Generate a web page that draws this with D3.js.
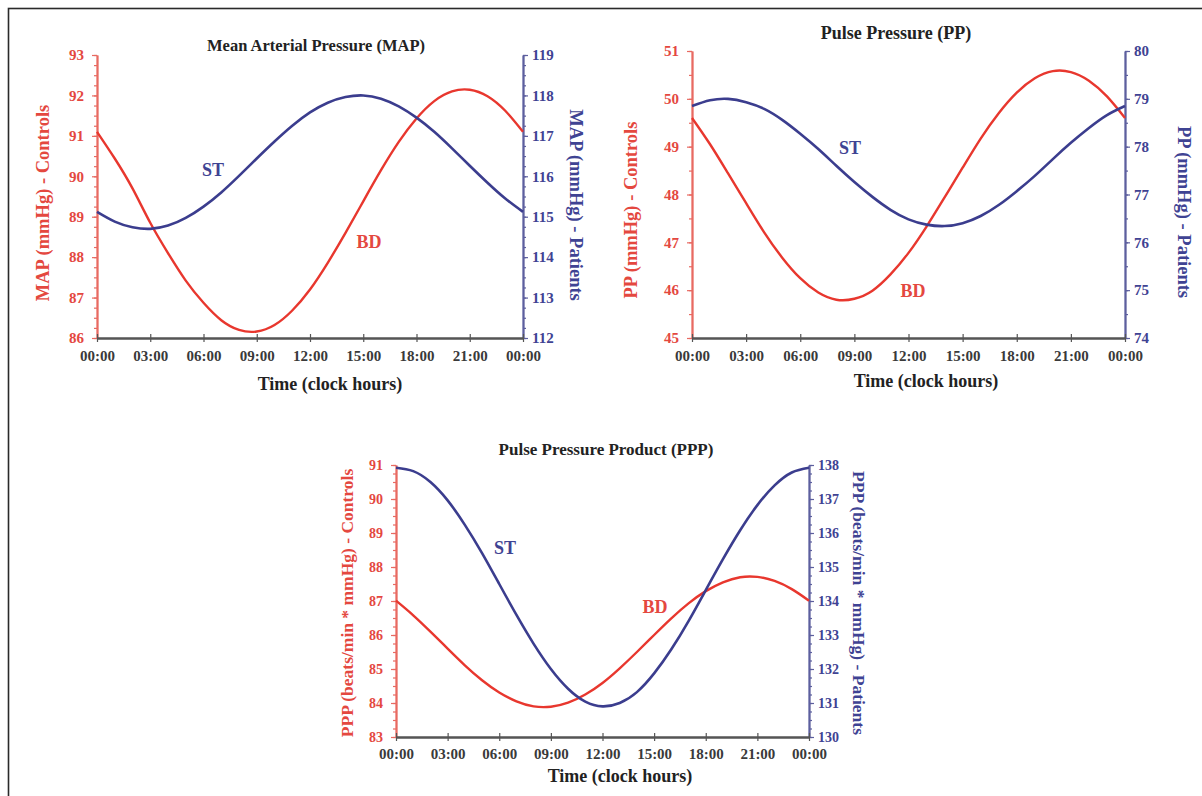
<!DOCTYPE html>
<html>
<head>
<meta charset="utf-8">
<script src="https://cdn.jsdelivr.net/npm/d3@7"></script>
<style>
  body { margin: 0; background: #fff; }
  svg { display: block; }
  text { font-family: "Liberation Serif", "Times New Roman", serif; font-weight: bold; }
</style>
</head>
<body>
<svg id="chart" width="1202" height="796"></svg>
<script>
// Clock hours of the fitted rhythms (00:00 .. next 00:00)
const hours = [0,1,2,3,4,5,6,7,8,9,10,11,12,13,14,15,16,17,18,19,20,21,22,23,24];
const timeTickHours = [0,3,6,9,12,15,18,21,24];
const timeTickLabels = ["00:00","03:00","06:00","09:00","12:00","15:00","18:00","21:00","00:00"];

// Mean arterial pressure (mmHg)
const mapControls = [91.10,90.44,89.70,88.85,88.10,87.42,86.87,86.44,86.20,86.16,86.32,86.68,87.20,87.86,88.60,89.38,90.15,90.85,91.43,91.86,92.10,92.14,91.98,91.62,91.10];
const mapPatients = [115.12,114.88,114.74,114.70,114.78,114.97,115.25,115.60,116.01,116.44,116.86,117.25,117.58,117.82,117.96,118.00,117.92,117.73,117.45,117.10,116.69,116.26,115.84,115.45,115.12];
const mapControlTicks = [86,87,88,89,90,91,92,93];
const mapPatientTicks = [112,113,114,115,116,117,118,119];

// Pulse pressure (mmHg)
const ppControls = [49.60,49.05,48.44,47.82,47.21,46.68,46.25,45.95,45.80,45.82,45.99,46.33,46.78,47.33,47.94,48.56,49.17,49.70,50.13,50.43,50.58,50.56,50.38,50.05,49.60];
const ppPatients = [78.85,78.97,79.00,78.93,78.79,78.56,78.27,77.95,77.60,77.26,76.95,76.68,76.48,76.37,76.34,76.40,76.55,76.78,77.07,77.39,77.74,78.08,78.39,78.66,78.85];
const ppControlTicks = [45,46,47,48,49,50,51];
const ppPatientTicks = [74,75,76,77,78,79,80];

// Pulse pressure product (beats/min * mmHg)
const pppControls = [87.01,86.58,86.10,85.60,85.11,84.67,84.31,84.05,83.90,83.89,84.01,84.25,84.59,85.02,85.50,86.00,86.49,86.93,87.29,87.55,87.70,87.71,87.59,87.35,87.01];
const pppPatients = [137.92,137.82,137.50,136.96,136.24,135.41,134.50,133.59,132.74,132.00,131.42,131.04,130.90,131.00,131.32,131.87,132.58,133.41,134.32,135.23,136.08,136.82,137.40,137.78,137.92];
const pppControlTicks = [83,84,85,86,87,88,89,90,91];
const pppPatientTicks = [130,131,132,133,134,135,136,137,138];

const RED = "#e8372e";
const RED_TEXT = "#e4483f";
const RED_AXIS = "#e86a62";
const BLUE = "#3b3d8e";
const BLUE_TEXT = "#3f4393";
const BLUE_AXIS = "#5d5f9e";
const GREY = "#3a3a3a";

const svg = d3.select("#chart");

// outer frame
svg.append("rect")
  .attr("x", 8.5).attr("y", 8.5)
  .attr("width", 1200).attr("height", 800)
  .attr("fill", "none").attr("stroke", "#2a2a2a").attr("stroke-width", 1.6);

function styleAxis(sel, lineColor, textColor, fontSize) {
  sel.select(".domain").attr("stroke", lineColor).attr("stroke-width", 1.8);
  sel.selectAll(".tick line").attr("stroke", lineColor).attr("stroke-width", 1.2);
  sel.selectAll(".tick text").attr("fill", textColor).style("font-size", fontSize + "px")
    .style("font-family", '"Liberation Serif", "Times New Roman", serif').style("font-weight", "bold");
}

function drawPanel(p) {
  const g = svg.append("g");
  const x = d3.scaleLinear().domain([0, 24]).range([p.left, p.right]);
  const yL = d3.scaleLinear().domain([p.leftTicks[0], p.leftTicks[p.leftTicks.length - 1]]).range([p.bottom, p.top]);
  const yR = d3.scaleLinear().domain([p.rightTicks[0], p.rightTicks[p.rightTicks.length - 1]]).range([p.bottom, p.top]);

  const minorL = d3.range(yL.domain()[0], yL.domain()[1] + 1e-6, p.minorStep);
  const minorR = d3.range(yR.domain()[0], yR.domain()[1] + 1e-6, p.minorStep);

  // minor ticks
  g.append("g").attr("transform", `translate(${p.left},0)`)
    .call(d3.axisLeft(yL).tickValues(minorL).tickSize(3).tickSizeOuter(0).tickFormat(""))
    .call(s => styleAxis(s, RED_AXIS, RED_TEXT, p.yTickSize));
  g.append("g").attr("transform", `translate(${p.right},0)`)
    .call(d3.axisRight(yR).tickValues(minorR).tickSize(3).tickSizeOuter(0).tickFormat(""))
    .call(s => styleAxis(s, BLUE_AXIS, BLUE_TEXT, p.yTickSize));

  // major ticks with labels
  g.append("g").attr("transform", `translate(${p.left},0)`)
    .call(d3.axisLeft(yL).tickValues(p.leftTicks).tickSize(5).tickPadding(8).tickSizeOuter(0).tickFormat(d3.format("d")))
    .call(s => styleAxis(s, RED_AXIS, RED_TEXT, p.yTickSize));
  g.append("g").attr("transform", `translate(${p.right},0)`)
    .call(d3.axisRight(yR).tickValues(p.rightTicks).tickSize(5).tickPadding(4).tickSizeOuter(0).tickFormat(d3.format("d")))
    .call(s => styleAxis(s, BLUE_AXIS, BLUE_TEXT, p.yTickSize));

  // time axis
  g.append("g").attr("transform", `translate(0,${p.bottom})`)
    .call(d3.axisBottom(x).tickValues(timeTickHours).tickSize(4).tickPadding(p.xTickPad).tickSizeOuter(0)
      .tickFormat((d, i) => timeTickLabels[i]))
    .call(s => styleAxis(s, "#555", GREY, 15));
  g.append("g").attr("transform", `translate(0,${p.bottom})`)
    .call(d3.axisTop(x).tickValues(timeTickHours).tickSize(4).tickSizeOuter(0).tickFormat(""))
    .call(s => styleAxis(s, "#555", GREY, 15));

  // curves
  const lineL = d3.line().x((d, i) => x(hours[i])).y(d => yL(d)).curve(d3.curveNatural);
  const lineR = d3.line().x((d, i) => x(hours[i])).y(d => yR(d)).curve(d3.curveNatural);
  g.append("path").datum(p.controls).attr("d", lineL)
    .attr("fill", "none").attr("stroke", RED).attr("stroke-width", 2.4);
  g.append("path").datum(p.patients).attr("d", lineR)
    .attr("fill", "none").attr("stroke", BLUE).attr("stroke-width", 2.6);

  // titles
  g.append("text").attr("x", p.titleX).attr("y", p.titleY).attr("text-anchor", "middle")
    .attr("fill", "#222").style("font-size", p.titleSize + "px").text(p.title);
  g.append("text").attr("x", p.xTitleX).attr("y", p.xTitleY).attr("text-anchor", "middle")
    .attr("fill", "#222").style("font-size", "18px").text("Time (clock hours)");
  g.append("text").attr("transform", `translate(${p.leftTitleX},${p.leftTitleY}) rotate(-90)`)
    .attr("text-anchor", "middle").attr("fill", RED_TEXT).style("font-size", p.axisTitleSize + "px").text(p.leftTitle);
  g.append("text").attr("transform", `translate(${p.rightTitleX},${p.rightTitleY}) rotate(90)`)
    .attr("text-anchor", "middle").attr("fill", BLUE_TEXT).style("font-size", p.axisTitleSize + "px").text(p.rightTitle);

  // series labels
  g.append("text").attr("x", p.stX).attr("y", p.stY).attr("text-anchor", "middle")
    .attr("fill", BLUE_TEXT).style("font-size", "18px").text("ST");
  g.append("text").attr("x", p.bdX).attr("y", p.bdY).attr("text-anchor", "middle")
    .attr("fill", RED_TEXT).style("font-size", "18px").text("BD");
}

drawPanel({
  left: 97, right: 523, top: 55, bottom: 338, minorStep: 0.25, yTickSize: 15, xTickPad: 8,
  leftTicks: mapControlTicks, rightTicks: mapPatientTicks,
  controls: mapControls, patients: mapPatients,
  title: "Mean Arterial Pressure (MAP)", titleSize: 16.5, titleX: 316, titleY: 51,
  xTitleX: 330, xTitleY: 390,
  axisTitleSize: 18.5,
  leftTitle: "MAP (mmHg) - Controls", leftTitleX: 49, leftTitleY: 203,
  rightTitle: "MAP (mmHg) - Patients", rightTitleX: 570, rightTitleY: 205,
  stX: 213, stY: 176, bdX: 369, bdY: 248
});

drawPanel({
  left: 692, right: 1125, top: 51, bottom: 338, minorStep: 0.5, yTickSize: 15, xTickPad: 8,
  leftTicks: ppControlTicks, rightTicks: ppPatientTicks,
  controls: ppControls, patients: ppPatients,
  title: "Pulse Pressure (PP)", titleSize: 18, titleX: 896, titleY: 39,
  xTitleX: 926, xTitleY: 387,
  axisTitleSize: 18.5,
  leftTitle: "PP (mmHg) - Controls", leftTitleX: 637, leftTitleY: 210,
  rightTitle: "PP (mmHg) - Patients", rightTitleX: 1178, rightTitleY: 212,
  stX: 850, stY: 154, bdX: 913, bdY: 297
});

drawPanel({
  left: 396, right: 809, top: 465, bottom: 737, minorStep: 0.25, yTickSize: 14, xTickPad: 7,
  leftTicks: pppControlTicks, rightTicks: pppPatientTicks,
  controls: pppControls, patients: pppPatients,
  title: "Pulse Pressure Product (PPP)", titleSize: 17, titleX: 606, titleY: 455,
  xTitleX: 620, xTitleY: 782,
  axisTitleSize: 17.5,
  leftTitle: "PPP (beats/min * mmHg) - Controls", leftTitleX: 353, leftTitleY: 603,
  rightTitle: "PPP (beats/min * mmHg) - Patients", rightTitleX: 853, rightTitleY: 603,
  stX: 505, stY: 554, bdX: 655, bdY: 613
});
</script>
</body>
</html>
